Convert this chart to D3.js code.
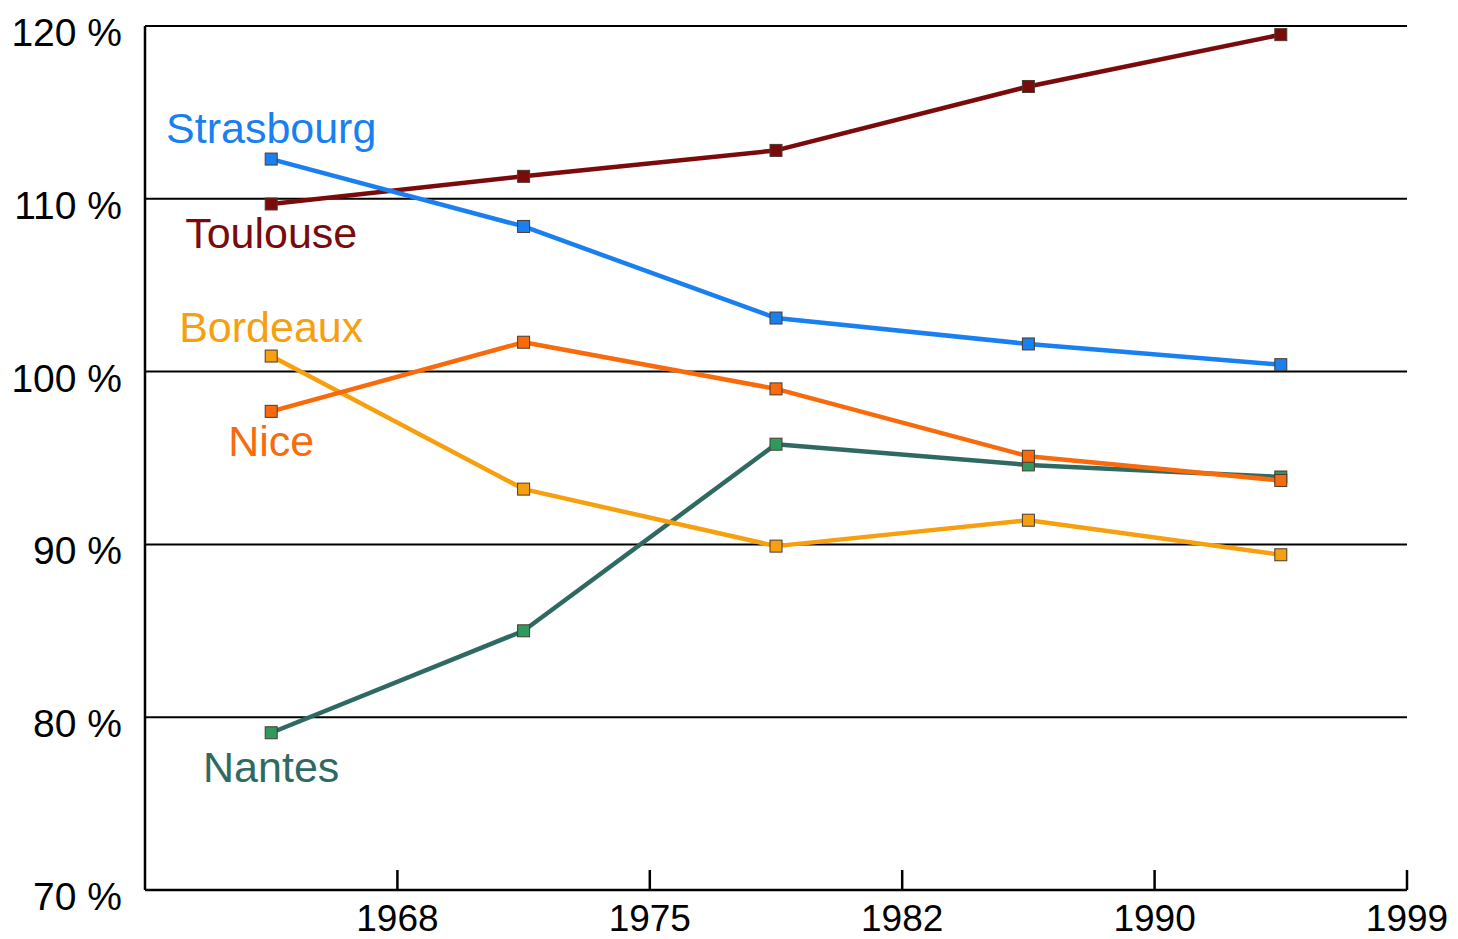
<!DOCTYPE html>
<html>
<head>
<meta charset="utf-8">
<script src="https://cdn.jsdelivr.net/npm/d3@7"></script>
<style>
  body { margin: 0; background: #fff; }
  text { font-family: "Liberation Sans", Arial, sans-serif; }
</style>
</head>
<body>
<div id="chart"></div>
<script>
// census periods, labels sit on the right edge of each band
let years = ["1968", "1975", "1982", "1990", "1999"]
let yTicks = [70, 80, 90, 100, 110, 120]

let toulouse = [109.7, 111.3, 112.8, 116.5, 119.5]
let strasbourg = [112.3, 108.4, 103.1, 101.6, 100.4]
let bordeaux = [100.9, 93.2, 89.9, 91.4, 89.4]
let nice = [97.7, 101.7, 99.0, 95.1, 93.7]
let nantes = [79.1, 85.0, 95.8, 94.6, 93.9]

let series = [
    { name: "Strasbourg", values: strasbourg, line: "#1a7ff0", fill: "#1a7ff0", labelY: 143 },
    { name: "Toulouse", values: toulouse, line: "#7b0b0b", fill: "#7b0b0b", labelY: 248 },
    { name: "Bordeaux", values: bordeaux, line: "#f7a00f", fill: "#f7a00f", labelY: 342 },
    { name: "Nice", values: nice, line: "#f86a0c", fill: "#f86a0c", labelY: 456 },
    { name: "Nantes", values: nantes, line: "#2f6a62", fill: "#2e9a5e", labelY: 782 }
]

let width = 1458
let height = 939
let plotLeft = 145, plotRight = 1407, plotTop = 26, plotBottom = 890

let svg = d3.select("#chart")
    .append("svg")
    .attr("width", width)
    .attr("height", height)

let x = d3.scaleBand()
    .domain(years)
    .range([plotLeft, plotRight])
    .paddingInner(0).paddingOuter(0)

let y = d3.scaleLinear()
    .domain([70, 120])
    .range([plotBottom, plotTop])

// horizontal grid
svg.selectAll(".grid")
    .data(yTicks.filter(d => d > 70))
    .enter()
    .append("line")
    .attr("x1", plotLeft)
    .attr("x2", plotRight)
    .attr("y1", d => y(d))
    .attr("y2", d => y(d))
    .attr("stroke", "#000")
    .attr("stroke-width", 2)

// y labels
svg.selectAll(".ylab")
    .data(yTicks)
    .enter()
    .append("text")
    .attr("x", 122)
    .attr("y", d => y(d) + 20)
    .attr("text-anchor", "end")
    .style("font-size", "39px")
    .text(d => d + " %")

// axes lines
svg.append("line")
    .attr("x1", plotLeft).attr("x2", plotLeft)
    .attr("y1", plotTop).attr("y2", plotBottom)
    .attr("stroke", "#000").attr("stroke-width", 2.5)
svg.append("line")
    .attr("x1", plotLeft).attr("x2", plotRight)
    .attr("y1", plotBottom).attr("y2", plotBottom)
    .attr("stroke", "#000").attr("stroke-width", 2.5)

// x ticks at band edges
svg.selectAll(".xtick")
    .data(years)
    .enter()
    .append("line")
    .attr("x1", d => x(d) + x.bandwidth())
    .attr("x2", d => x(d) + x.bandwidth())
    .attr("y1", plotBottom)
    .attr("y2", plotBottom - 20)
    .attr("stroke", "#000").attr("stroke-width", 2.5)

svg.selectAll(".xlab")
    .data(years)
    .enter()
    .append("text")
    .attr("x", d => x(d) + x.bandwidth())
    .attr("y", 931)
    .attr("text-anchor", "middle")
    .style("font-size", "37px")
    .text(d => d)

let line = d3.line()
    .x((d, i) => x(years[i]) + x.bandwidth() / 2)
    .y(d => y(d))

// draw in order so Toulouse/Strasbourg sit on top like the picture
let drawOrder = [series[4], series[2], series[3], series[1], series[0]]
drawOrder.forEach(s => {
    svg.append("path")
        .datum(s.values)
        .attr("d", line)
        .attr("fill", "none")
        .attr("stroke", s.line)
        .attr("stroke-width", 4.5)
        .attr("stroke-linejoin", "round")
    svg.selectAll(null)
        .data(s.values)
        .enter()
        .append("rect")
        .attr("x", (d, i) => x(years[i]) + x.bandwidth() / 2 - 6)
        .attr("y", d => y(d) - 6)
        .attr("width", 12)
        .attr("height", 12)
        .attr("fill", s.fill)
        .attr("stroke", "#4a3a30")
        .attr("stroke-width", 1)
})

series.forEach(s => {
    svg.append("text")
        .attr("x", x(years[0]) + x.bandwidth() / 2)
        .attr("y", s.labelY)
        .attr("text-anchor", "middle")
        .attr("fill", s.line)
        .style("font-size", "43px")
        .text(s.name)
})
</script>
</body>
</html>
